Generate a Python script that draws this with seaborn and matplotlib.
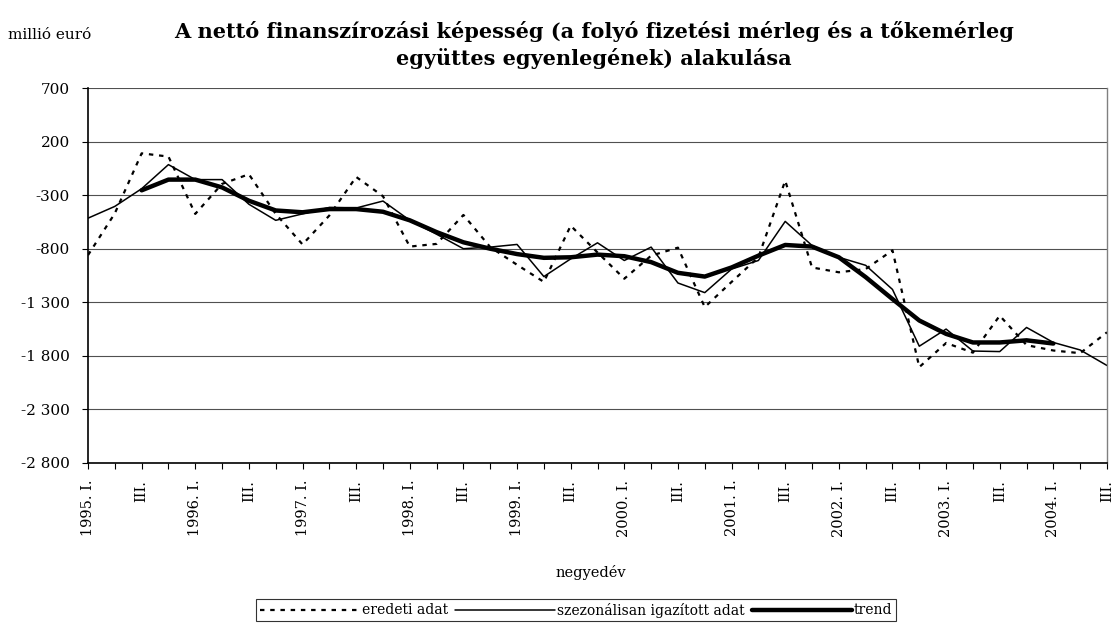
import numpy as np
import pandas as pd
import matplotlib
matplotlib.use('Agg')
import matplotlib.pyplot as plt
import seaborn as sns

# negyedévek 1995. I. - 2004. III.
years = list(range(1995, 2005))
roman = ['I.', 'II.', 'III.', 'IV.']
quarters = [f'{y}. {r}' for y in years for r in roman][:39]

# eredeti adat (millió euró)
eredeti = [-860, -470, 90, 60, -475, -195, -105, -475, -760, -490,
           -130, -310, -780, -755, -485, -785, -950, -1110, -585, -835,
           -1080, -865, -790, -1345, -1110, -880, -165, -975, -1020, -990,
           -815, -1905, -1680, -1770, -1425, -1700, -1750, -1775, -1580]

# szezonálisan igazított adat
szezonalis = [-515, -405, -240, -15, -155, -155, -385, -535, -475, -415,
              -420, -355, -535, -665, -800, -785, -760, -1060, -895, -745,
              -910, -785, -1120, -1210, -990, -910, -545, -770, -880, -955,
              -1180, -1710, -1550, -1755, -1760, -1535, -1675, -1745, -1890]

# trend (1995. III. - 2004. I.)
trend = [np.nan, np.nan, -255, -155, -155, -228, -352, -443, -460, -430,
         -430, -455, -535, -645, -740, -800, -850, -885, -880, -855,
         -870, -925, -1025, -1060, -975, -865, -765, -780, -880, -1065,
         -1270, -1470, -1595, -1675, -1675, -1655, -1685, np.nan, np.nan]

df = pd.DataFrame({'idx': np.arange(len(quarters)), 'negyedev': quarters,
                   'eredeti': eredeti, 'szezonalis': szezonalis, 'trend': trend})

sns.set_style('white')
plt.rcParams['font.family'] = ['DejaVu Serif', 'Liberation Serif']
plt.rcParams['text.color'] = 'black'
plt.rcParams['axes.labelcolor'] = 'black'
plt.rcParams['xtick.color'] = 'black'
plt.rcParams['ytick.color'] = 'black'

fig = plt.figure(figsize=(11.12, 6.25), dpi=100)
ax = fig.add_axes([88 / 1112, 1 - 463 / 625, 1019 / 1112, 375 / 625])

sns.lineplot(data=df, x='idx', y='eredeti', ax=ax, color='black', lw=1.6,
             label='eredeti adat')
ax.lines[-1].set_dashes((2, 2.6))
sns.lineplot(data=df, x='idx', y='szezonalis', ax=ax, color='black', lw=1.1,
             label='szezonálisan igazított adat')
sns.lineplot(data=df.dropna(), x='idx', y='trend', ax=ax, color='black', lw=3.2,
             label='trend')

ax.set_xlim(0, len(quarters) - 1)
ax.set_ylim(-2800, 700)
yt = np.arange(-2800, 701, 500)
ax.set_yticks(yt)
ax.set_yticklabels([f'{v:,}'.replace(',', ' ') for v in yt], fontsize=11)
ax.yaxis.grid(True, color='#505050', lw=0.8)
ax.set_axisbelow(True)

ax.set_xticks(df['idx'])
xlabels = []
for i, q in enumerate(quarters):
    if i % 4 == 0:
        xlabels.append(q)
    elif i % 4 == 2:
        xlabels.append('III.')
    else:
        xlabels.append('')
ax.set_xticklabels(xlabels, rotation=90, fontsize=10.5)
ax.tick_params(axis='both', direction='out', length=4, width=0.8, color='black',
               labelcolor='black', bottom=True, left=True)
ax.tick_params(axis='y', pad=9)
ax.tick_params(axis='x', pad=8)

for s in ['left', 'bottom']:
    ax.spines[s].set_color('black')
    ax.spines[s].set_linewidth(1.2)
ax.spines['top'].set_visible(False)
ax.spines['right'].set_color('#808080')
ax.spines['right'].set_linewidth(1.0)

ax.set_ylabel('')
ax.set_xlabel('negyedév', fontsize=10.5, color='black')
ax.xaxis.set_label_coords(0.493, -0.272)

fig.text(0.534, 0.928, 'A nettó finanszírozási képesség (a folyó fizetési mérleg és a tőkemérleg\n'
         'együttes egyenlegének) alakulása', ha='center', va='center',
         fontsize=15, fontweight='bold', linespacing=1.35, color='black')
fig.text(0.007, 0.944, 'millió euró', ha='left', va='center', fontsize=11, color='black')

ax.get_legend().remove()
handles, labels = ax.get_legend_handles_labels()
leg = fig.legend(handles, labels, loc='center', bbox_to_anchor=(0.518, 0.024),
                 ncol=3, frameon=True, fancybox=False, edgecolor='black',
                 fontsize=10, handlelength=7.2, handletextpad=0.15,
                 columnspacing=0.5, borderpad=0.25, borderaxespad=0,
                 labelcolor='black')
leg.get_frame().set_linewidth(0.8)

fig.savefig('out.png', dpi=100)
